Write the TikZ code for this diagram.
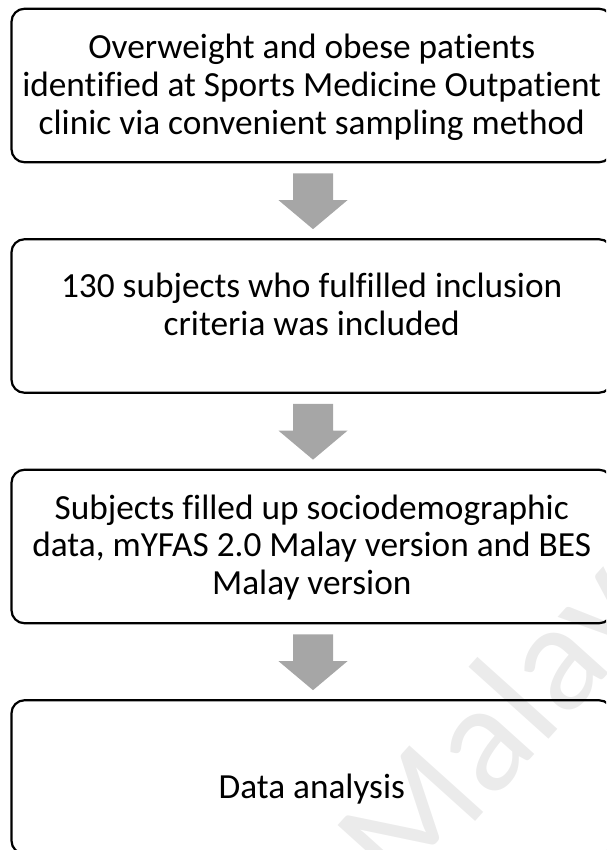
\documentclass[tikz,border=0pt]{standalone}
\usepackage{fontspec}
\setmainfont{Carlito}[Ligatures=NoCommon]
\usetikzlibrary{calc}

\tikzset{
  stagebox/.style={draw=black, line width=2.2pt, rounded corners=13pt,
    minimum width=600.5pt, minimum height=153.5pt, inner sep=0pt},
  stagetext/.style={align=center, inner sep=0pt,
    font=\fontsize{35.3pt}{37.8pt}\selectfont},
  arrowfill/.style={fill=black!35, draw=none},
  watermark/.style={text=black!8, font=\fontsize{155pt}{155pt}\selectfont,
    rotate=48, inner sep=0pt}
}

% grey block arrow from the bottom of one stage to the top of the next
\newcommand\flowarrow[2]{%
  \fill[arrowfill] let \p1=(#1.south), \p2=(#2.north) in
    (\x1-18.75pt, \y1-10pt) -- (\x1+21.25pt, \y1-10pt) --
    (\x1+21.25pt, \y2+38pt) -- (\x1+35.75pt, \y2+38pt) --
    (\x1+1.25pt, \y2+9pt) -- (\x1-33.25pt, \y2+38pt) --
    (\x1-18.75pt, \y2+38pt) -- cycle;}

\begin{document}
\begin{tikzpicture}[x=1pt, y=-1pt]
  \useasboundingbox (0,0) rectangle (606,850);
  \clip (0,0) rectangle (606,850);

  % faint watermark behind the chart
  \node[watermark] (wm) at (470,765) {of Malaya};

  % stages
  \node[stagebox] (b1) at (311.75,85.5) {};
  \node[stagebox] (b2) at (311.75,316) {};
  \node[stagebox] (b3) at (311.75,546.5) {};
  \node[stagebox] (b4) at (311.75,777) {};

  \node[stagetext] (t1) at ($(b1.center)+(0,2)$)
    {Overweight and obese patients\\identified at Sports Medicine Outpatient\\clinic via convenient sampling method};
  \node[stagetext] (t2) at ($(b2.center)+(0,-12)$)
    {130 subjects who fulfilled inclusion\\criteria was included};
  \node[stagetext] (t3) at ($(b3.center)+(0,1)$)
    {Subjects filled up sociodemographic\\data, mYFAS 2.0 Malay version and BES\\Malay version};
  \node[stagetext] (t4) at ($(b4.center)+(0,12)$) {Data analysis};

  % connectors
  \flowarrow{b1}{b2}
  \flowarrow{b2}{b3}
  \flowarrow{b3}{b4}
\end{tikzpicture}
\end{document}
